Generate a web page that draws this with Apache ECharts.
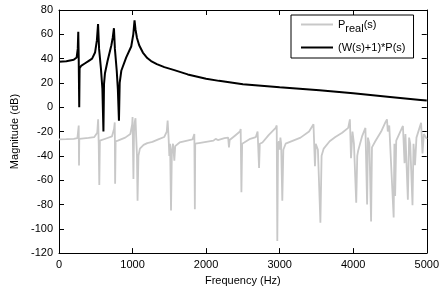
<!DOCTYPE html>
<html>
<head>
    <meta charset="utf-8">
    <title>ECharts</title>
    <script src="https://cdn.jsdelivr.net/npm/echarts@6/dist/echarts.min.js"></script>
    <style>
        html, body { margin: 0; padding: 0; background: #fff; }
    </style>
</head>
<body>
    <div id="main" style="width: 442px;height:291px;"></div>
    <script type="text/javascript">
        // P_real(s) : grey curve
        var realFreq = [0, 100, 200, 250, 265, 268, 272, 276, 300, 400, 480, 520, 532, 540, 548, 556, 580, 650, 720, 748, 758, 763, 770, 800,
            900, 970, 995, 1000, 1005, 1012, 1020, 1030, 1040, 1050, 1060, 1068, 1080, 1100, 1150, 1200, 1270, 1350, 1430, 1465, 1477,
            1490, 1500, 1510, 1523, 1535, 1550, 1568, 1580, 1640, 1700, 1815, 1840, 1847, 1852, 1900, 2000, 2100, 2130, 2160, 2250,
            2300, 2311, 2320, 2400, 2460, 2470, 2480, 2490, 2518, 2600, 2676, 2700, 2710, 2720, 2730, 2766, 2850, 2946, 2960, 2968,
            2978, 2990, 3000, 3010, 3020, 3036, 3050, 3081, 3200, 3284, 3400, 3460, 3473, 3480, 3490, 3520, 3554, 3570, 3599, 3680,
            3757, 3850, 3932, 3955, 3964, 3970, 3990, 4010, 4041, 4055, 4068, 4120, 4166, 4189, 4200, 4220, 4243, 4255, 4300, 4380,
            4440, 4459, 4470, 4490, 4550, 4560, 4570, 4585, 4640, 4676, 4698, 4710, 4743, 4760, 4775, 4806, 4820, 4840, 4860, 4923,
            4942, 4960, 5000];
        var realMag = [-26.5, -26.3, -26, -25.5, -24.5, -15, -48, -26, -25.5, -25.2, -24.5, -21, -10, -30, -64, -27.5, -27, -25.5, -24, -18, -12.5, -63, -28, -27.5,
            -25, -22, -14, -8, -30, -59, -20, -12, -9, -25, -40, -77, -40, -34, -31, -29.5, -28.5, -26.5, -24.5, -20, -11,
            -25, -40, -30, -85, -35, -30, -44, -32, -29, -28, -26.5, -22, -84, -30, -29.5, -28.5, -27.5, -26, -27, -25.5,
            -25, -33, -27, -23, -20, -18, -70, -30, -29, -26, -24.5, -20, -19.5, -50, -30, -29, -23, -17, -15, -110,
            -30, -28, -35, -25, -30, -77, -35, -30, -27, -25, -20, -14, -12.5, -48.5, -30, -35, -95, -40, -34, -28,
            -24.5, -21, -17, -10, -8.5, -42, -20, -30, -78.6, -40, -35.5, -24, -17, -80, -25, -30, -94, -33, -28, -20,
            -12, -10, -20, -15, -90.7, -30, -73, -27.5, -20, -15.4, -46, -22, -76, -25, -30, -80.7, -30, -47.7, -25, -12.7,
            -38, -22, -26];

        // (W(s)+1)*P(s) : black curve
        var modFreq = [0, 100, 200, 240, 255, 262, 268, 275, 280, 300, 350, 400, 450, 490, 515, 531, 545, 570, 590, 604, 612, 625, 660, 712,
            730, 747, 760, 785, 800, 815, 825, 847, 914, 982, 1010, 1027, 1040, 1060, 1090, 1140, 1200, 1252, 1330, 1432, 1568, 1750, 2000,
            2176, 2500, 3000, 3541, 4000, 4500, 4915, 5000];
        var modMag = [37.5, 37.8, 39, 41, 48, 62, 40, 0, 32, 34, 36, 38, 40, 45, 55, 68.5, 48, 32, 15, -20, 19, 28, 38, 51,
            57, 65, 48, 30, 15, -11, 20, 30, 41, 50, 60, 71.5, 64, 57, 51, 45, 40.5, 38, 35.5, 33, 30.5, 27, 23.5,
            21.7, 19, 16.5, 14, 11.5, 8.5, 6, 5.5];

        var xTicks = [0, 5000, 1000];
        var yTicks = [-120, 80, 20];

        function pairs(xs, ys) {
            var out = [];
            for (var i = 0; i < xs.length; i++) out.push([xs[i], ys[i]]);
            return out;
        }

        var myChart = echarts.init(document.getElementById('main'));
        var font = 'Arial, "Liberation Sans", sans-serif';
        var boxAxis = {
            axisLine: { show: true, onZero: false, lineStyle: { color: '#000', width: 1 } },
            axisTick: { show: true, inside: true, length: 5, lineStyle: { color: '#000' } },
            splitLine: { show: false }
        };
        var plain = function (v) { return String(v); };

        myChart.setOption({
            animation: false,
            textStyle: { fontFamily: font },
            grid: { left: 59, right: 13, top: 10, bottom: 33 },
            legend: {
                left: 291, top: 15,
                orient: 'vertical',
                backgroundColor: '#fff',
                borderColor: '#000',
                borderWidth: 1,
                borderRadius: 0,
                padding: [4, 8, 5, 10],
                itemGap: 8,
                itemWidth: 32,
                itemHeight: 14,
                data: [
                    { name: 'P_real', icon: 'path://M0,6L32,6L32,8L0,8Z', itemStyle: { color: '#c8c8c8' } },
                    { name: 'W1P', icon: 'path://M0,6L32,6L32,8L0,8Z', itemStyle: { color: '#000' } }
                ],
                formatter: function (name) {
                    if (name === 'P_real') return '{a|P}{b|real}{a|(s)}';
                    return '{a|(W(s)+1)*P(s)}';
                },
                textStyle: {
                    rich: {
                        a: { fontSize: 11, color: '#000', fontFamily: font },
                        b: { fontSize: 11, color: '#000', fontFamily: font, padding: [8, 0, 0, 0] }
                    }
                }
            },
            xAxis: [
                Object.assign({
                    type: 'value', min: xTicks[0], max: xTicks[1], interval: xTicks[2],
                    name: 'Frequency (Hz)', nameLocation: 'middle', nameGap: 21,
                    nameTextStyle: { fontSize: 11, color: '#000' },
                    axisLabel: { color: '#000', fontSize: 11, margin: 6, formatter: plain }
                }, boxAxis),
                Object.assign({
                    type: 'value', position: 'top', min: xTicks[0], max: xTicks[1], interval: xTicks[2],
                    axisLabel: { show: false }
                }, boxAxis)
            ],
            yAxis: [
                Object.assign({
                    type: 'value', min: yTicks[0], max: yTicks[1], interval: yTicks[2],
                    name: 'Magnitude (dB)', nameLocation: 'middle', nameGap: 38,
                    nameTextStyle: { fontSize: 11, color: '#000' },
                    axisLabel: { color: '#000', fontSize: 11, margin: 6, formatter: plain }
                }, boxAxis),
                Object.assign({
                    type: 'value', position: 'right', min: yTicks[0], max: yTicks[1], interval: yTicks[2],
                    axisLabel: { show: false }
                }, boxAxis)
            ],
            series: [
                {
                    name: 'P_real',
                    type: 'line',
                    symbol: 'none',
                    data: pairs(realFreq, realMag),
                    lineStyle: { color: '#c8c8c8', width: 1.8 },
                    itemStyle: { color: '#c8c8c8' }
                },
                {
                    name: 'W1P',
                    type: 'line',
                    symbol: 'none',
                    data: pairs(modFreq, modMag),
                    lineStyle: { color: '#000', width: 2 },
                    itemStyle: { color: '#000' }
                }
            ]
        });
    </script>
</body>
</html>
